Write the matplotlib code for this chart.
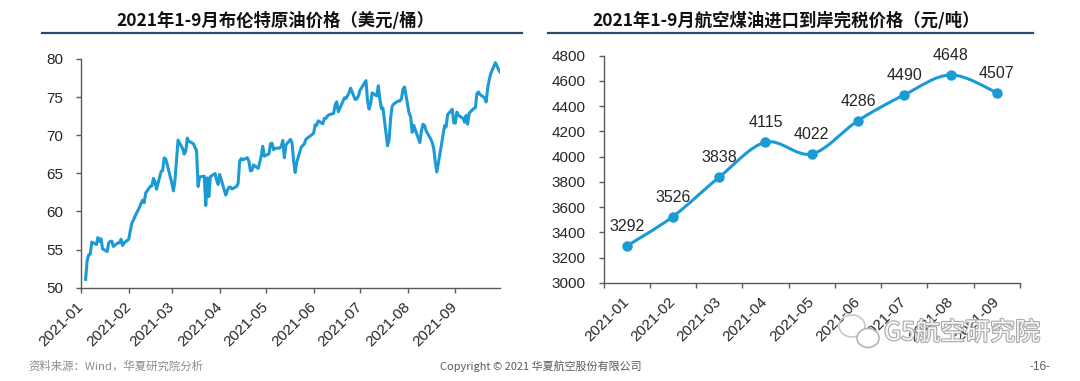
import matplotlib
matplotlib.use("Agg")
import matplotlib.pyplot as plt
import matplotlib.patheffects as pe
from matplotlib.path import Path
from matplotlib.patches import PathPatch, Ellipse
import numpy as np
import pandas as pd

plt.rcParams['font.family'] = ['Liberation Sans', 'Noto Sans CJK SC', 'DejaVu Sans']

# ---------------- data ----------------
title_left = "2021年1-9月布伦特原油价格（美元/桶）"
title_right = "2021年1-9月航空煤油进口到岸完税价格（元/吨）"

brent_dates = [
    "2021-01-04", "2021-01-05", "2021-01-06", "2021-01-07", "2021-01-08", "2021-01-11", "2021-01-12",
    "2021-01-13", "2021-01-14", "2021-01-15", "2021-01-18", "2021-01-19", "2021-01-20", "2021-01-21",
    "2021-01-22", "2021-01-25", "2021-01-26", "2021-01-27", "2021-01-28", "2021-01-29",
    "2021-02-01", "2021-02-02", "2021-02-03", "2021-02-04", "2021-02-05", "2021-02-08", "2021-02-09",
    "2021-02-10", "2021-02-11", "2021-02-12", "2021-02-15", "2021-02-16", "2021-02-17", "2021-02-18",
    "2021-02-19", "2021-02-22", "2021-02-23", "2021-02-24", "2021-02-25", "2021-02-26",
    "2021-03-01", "2021-03-02", "2021-03-03", "2021-03-04", "2021-03-05", "2021-03-08", "2021-03-09",
    "2021-03-10", "2021-03-11", "2021-03-12", "2021-03-15", "2021-03-16", "2021-03-17", "2021-03-18",
    "2021-03-19", "2021-03-22", "2021-03-23", "2021-03-24", "2021-03-25", "2021-03-26", "2021-03-29",
    "2021-03-30", "2021-03-31",
    "2021-04-01", "2021-04-05", "2021-04-06", "2021-04-07", "2021-04-08", "2021-04-09", "2021-04-12",
    "2021-04-13", "2021-04-14", "2021-04-15", "2021-04-16", "2021-04-19", "2021-04-20", "2021-04-21",
    "2021-04-22", "2021-04-23", "2021-04-26", "2021-04-27", "2021-04-28", "2021-04-29", "2021-04-30",
    "2021-05-03", "2021-05-04", "2021-05-05", "2021-05-06", "2021-05-07", "2021-05-10", "2021-05-11",
    "2021-05-12", "2021-05-13", "2021-05-14", "2021-05-17", "2021-05-18", "2021-05-19", "2021-05-20",
    "2021-05-21", "2021-05-24", "2021-05-25", "2021-05-26", "2021-05-27", "2021-05-28",
    "2021-06-01", "2021-06-02", "2021-06-03", "2021-06-04", "2021-06-07", "2021-06-08", "2021-06-09",
    "2021-06-10", "2021-06-11", "2021-06-14", "2021-06-15", "2021-06-16", "2021-06-17", "2021-06-18",
    "2021-06-21", "2021-06-22", "2021-06-23", "2021-06-24", "2021-06-25", "2021-06-28", "2021-06-29",
    "2021-06-30",
    "2021-07-01", "2021-07-02", "2021-07-05", "2021-07-06", "2021-07-07", "2021-07-08", "2021-07-09",
    "2021-07-12", "2021-07-13", "2021-07-14", "2021-07-15", "2021-07-16", "2021-07-19", "2021-07-20",
    "2021-07-21", "2021-07-22", "2021-07-23", "2021-07-26", "2021-07-27", "2021-07-28", "2021-07-29",
    "2021-07-30",
    "2021-08-02", "2021-08-03", "2021-08-04", "2021-08-05", "2021-08-06", "2021-08-09", "2021-08-10",
    "2021-08-11", "2021-08-12", "2021-08-13", "2021-08-16", "2021-08-17", "2021-08-18", "2021-08-19",
    "2021-08-20", "2021-08-23", "2021-08-24", "2021-08-25", "2021-08-26", "2021-08-27", "2021-08-30",
    "2021-08-31",
    "2021-09-01", "2021-09-02", "2021-09-03", "2021-09-06", "2021-09-07", "2021-09-08", "2021-09-09",
    "2021-09-10", "2021-09-13", "2021-09-14", "2021-09-15", "2021-09-16", "2021-09-17", "2021-09-20",
    "2021-09-21", "2021-09-22", "2021-09-23", "2021-09-24", "2021-09-27", "2021-09-28", "2021-09-29",
    "2021-09-30",
]
brent_values = [
    51.09, 53.60, 54.30, 54.38, 55.99, 55.66, 56.58,
    56.06, 56.42, 55.10, 54.75, 55.90, 56.08, 56.10,
    55.41, 55.88, 55.91, 56.34, 55.53, 55.88,
    56.35, 57.46, 58.46, 58.84, 59.34, 60.56, 61.09,
    61.47, 61.14, 62.43, 63.30, 63.35, 64.34, 63.93,
    62.91, 65.24, 65.37, 67.04, 66.88, 66.13,
    63.69, 62.70, 64.07, 66.74, 69.36, 68.24, 67.52,
    67.90, 69.63, 69.22, 68.88, 68.39, 68.00, 63.28,
    64.53, 64.62, 60.79, 64.41, 61.95, 64.57, 64.98,
    64.14, 63.54,
    64.86, 62.15, 62.74, 63.16, 63.20, 62.95, 63.28,
    63.67, 66.58, 66.94, 66.77, 67.05, 66.57, 65.32,
    65.40, 66.11, 65.65, 66.42, 67.27, 68.56, 67.25,
    67.56, 68.88, 68.96, 68.09, 68.28, 68.32, 68.55,
    69.32, 67.05, 68.71, 69.46, 69.00, 66.66, 65.11,
    66.44, 68.46, 68.65, 68.87, 69.46, 69.63,
    70.25, 71.35, 71.31, 71.89, 71.49, 72.22, 72.22,
    72.52, 72.69, 72.86, 73.99, 74.39, 73.08, 73.51,
    74.90, 74.81, 75.19, 75.56, 76.18, 74.68, 74.76,
    75.13,
    75.84, 76.17, 77.16, 74.53, 73.43, 74.12, 75.55,
    75.16, 76.49, 74.76, 73.47, 73.59, 68.62, 69.35,
    72.23, 73.79, 74.10, 74.50, 74.48, 74.74, 76.05,
    76.33,
    72.89, 72.41, 70.38, 71.29, 70.70, 69.04, 70.63,
    71.44, 71.31, 70.59, 69.51, 69.03, 68.23, 66.45,
    65.18, 68.75, 70.05, 71.25, 71.07, 72.70, 73.41,
    71.63,
    71.59, 73.03, 72.61, 72.22, 71.69, 72.60, 71.45,
    72.92, 73.51, 73.60, 75.46, 75.67, 75.34, 74.92,
    74.36, 76.19, 77.25, 78.09, 79.53, 79.09, 78.64,
    78.31,
]
left_ticks = ["2021-01", "2021-02", "2021-03", "2021-04", "2021-05",
              "2021-06", "2021-07", "2021-08", "2021-09"]

jet_months = ["2021-01", "2021-02", "2021-03", "2021-04", "2021-05",
              "2021-06", "2021-07", "2021-08", "2021-09"]
jet_values = [3292, 3526, 3838, 4115, 4022, 4286, 4490, 4648, 4507]

footer_source = "资料来源：Wind，华夏研究院分析"
footer_copy = "Copyright © 2021 华夏航空股份有限公司"
page_no = "-16-"
watermark = "G5航空研究院"

# ---------------- style ----------------
W, H = 1080, 381
LINE = '#1C9AD6'
AXC = '#595959'
TXT = '#262626'

fig = plt.figure(figsize=(W / 100, H / 100), dpi=100)
fig.patch.set_facecolor('white')


def fx(px):
    return px / W


def fy(py):
    return 1 - py / H


def style_axes(ax):
    for s in ['top', 'right']:
        ax.spines[s].set_visible(False)
    for s in ['left', 'bottom']:
        ax.spines[s].set_color(AXC)
        ax.spines[s].set_linewidth(1.0)
    ax.tick_params(axis='both', which='both', direction='out', length=3.5,
                   width=1.0, color=AXC, labelcolor=TXT, labelsize=11)
    ax.tick_params(axis='y', pad=9.5)
    ax.set_facecolor('none')


# ---------------- left chart ----------------
axL = fig.add_axes([fx(81), fy(287.7), fx(500 - 81), (287.7 - 59) / H])
style_axes(axL)
dts = pd.to_datetime(brent_dates)
axL.plot(dts, brent_values, color=LINE, lw=2.2, solid_joinstyle='round')
axL.set_ylim(50, 80)
axL.set_yticks(np.arange(50, 81, 5))
axL.set_xlim(pd.Timestamp("2021-01-01"), pd.Timestamp("2021-09-30"))
tick_pos = pd.to_datetime([t + "-01" for t in left_ticks])
axL.set_xticks(tick_pos)
axL.set_xticklabels(left_ticks, rotation=45, ha='right', va='center',
                    rotation_mode='anchor', fontsize=11)
axL.tick_params(axis='x', pad=9)

# ---------------- right chart ----------------
axR = fig.add_axes([fx(603.5), fy(283), fx(1020 - 603.5), (283 - 55.7) / H])
style_axes(axR)
n = len(jet_values)
xs = np.arange(n)
ys = np.array(jet_values, dtype=float)

# smoothed line (cubic Bezier through the points, like Excel "smoothed line")
verts = [(xs[0], ys[0])]
codes = [Path.MOVETO]
for i in range(n - 1):
    p0 = np.array([xs[max(i - 1, 0)], ys[max(i - 1, 0)]])
    p1 = np.array([xs[i], ys[i]])
    p2 = np.array([xs[i + 1], ys[i + 1]])
    p3 = np.array([xs[min(i + 2, n - 1)], ys[min(i + 2, n - 1)]])
    c1 = p1 + (p2 - p0) / 6.0
    c2 = p2 - (p3 - p1) / 6.0
    verts += [tuple(c1), tuple(c2), tuple(p2)]
    codes += [Path.CURVE4, Path.CURVE4, Path.CURVE4]
axR.add_patch(PathPatch(Path(verts, codes), facecolor='none', edgecolor=LINE,
                        lw=2.2, capstyle='round', joinstyle='round'))
axR.plot(xs, ys, 'o', color=LINE, markersize=6.5, zorder=3)
for x, y in zip(xs, jet_values):
    axR.annotate(str(y), (x, y), xytext=(0, 14), textcoords='offset points',
                 ha='center', va='center', fontsize=11.5, color=TXT)
axR.set_xlim(-0.5, n - 0.5)
axR.set_ylim(3000, 4800)
axR.set_yticks(np.arange(3000, 4801, 200))
axR.set_xticks(np.arange(-0.5, n, 1.0))
axR.set_xticklabels([])
axR.set_xticks(xs, minor=True)
axR.set_xticklabels(jet_months, minor=True, rotation=45, ha='right', va='center',
                    rotation_mode='anchor', fontsize=11)
axR.tick_params(axis='x', which='minor', length=0, pad=12)

# ---------------- titles ----------------
for cx, x0, x1, t in [(275, 42, 522, title_left), (786, 548, 1033, title_right)]:
    fig.text(fx(cx), fy(21), t, ha='center', va='center', fontsize=12.5,
             fontweight='bold', color='#111111',
             family=['Noto Sans CJK SC', 'DejaVu Sans'])
    fig.add_artist(plt.Line2D([fx(x0), fx(x1)], [fy(32.5), fy(32.5)],
                              color='#2B4C6F', lw=1.6, transform=fig.transFigure))

# ---------------- footer ----------------
fig.text(fx(28), fy(366), footer_source, ha='left', va='center', fontsize=8.2,
         color='#8C8C8C', family=['Noto Sans CJK SC', 'DejaVu Sans'])
fig.text(fx(440), fy(366), footer_copy, ha='left', va='center', fontsize=7.9,
         color='#595959', family=['Noto Sans CJK SC', 'DejaVu Sans'])
fig.text(fx(1040), fy(367), page_no, ha='center', va='center', fontsize=8.5,
         color='#595959')

# ---------------- watermark ----------------
wm_fx = [pe.withStroke(linewidth=1.6, foreground='#A0A0A0')]
fig.text(fx(884), fy(333), watermark, ha='left', va='center', fontsize=18,
         color='white', family=['Noto Sans CJK SC', 'DejaVu Sans'],
         path_effects=wm_fx, alpha=0.9)
fig.add_artist(Ellipse((fx(852), fy(326)), 26 / W, 22 / H, transform=fig.transFigure,
                       facecolor='none', edgecolor='#C8C8C8', lw=1.2))
fig.add_artist(Ellipse((fx(868), fy(338)), 22 / W, 19 / H, transform=fig.transFigure,
                       facecolor='white', edgecolor='#B4B4B4', lw=1.2))

fig.savefig("out.png", dpi=100, facecolor='white')
